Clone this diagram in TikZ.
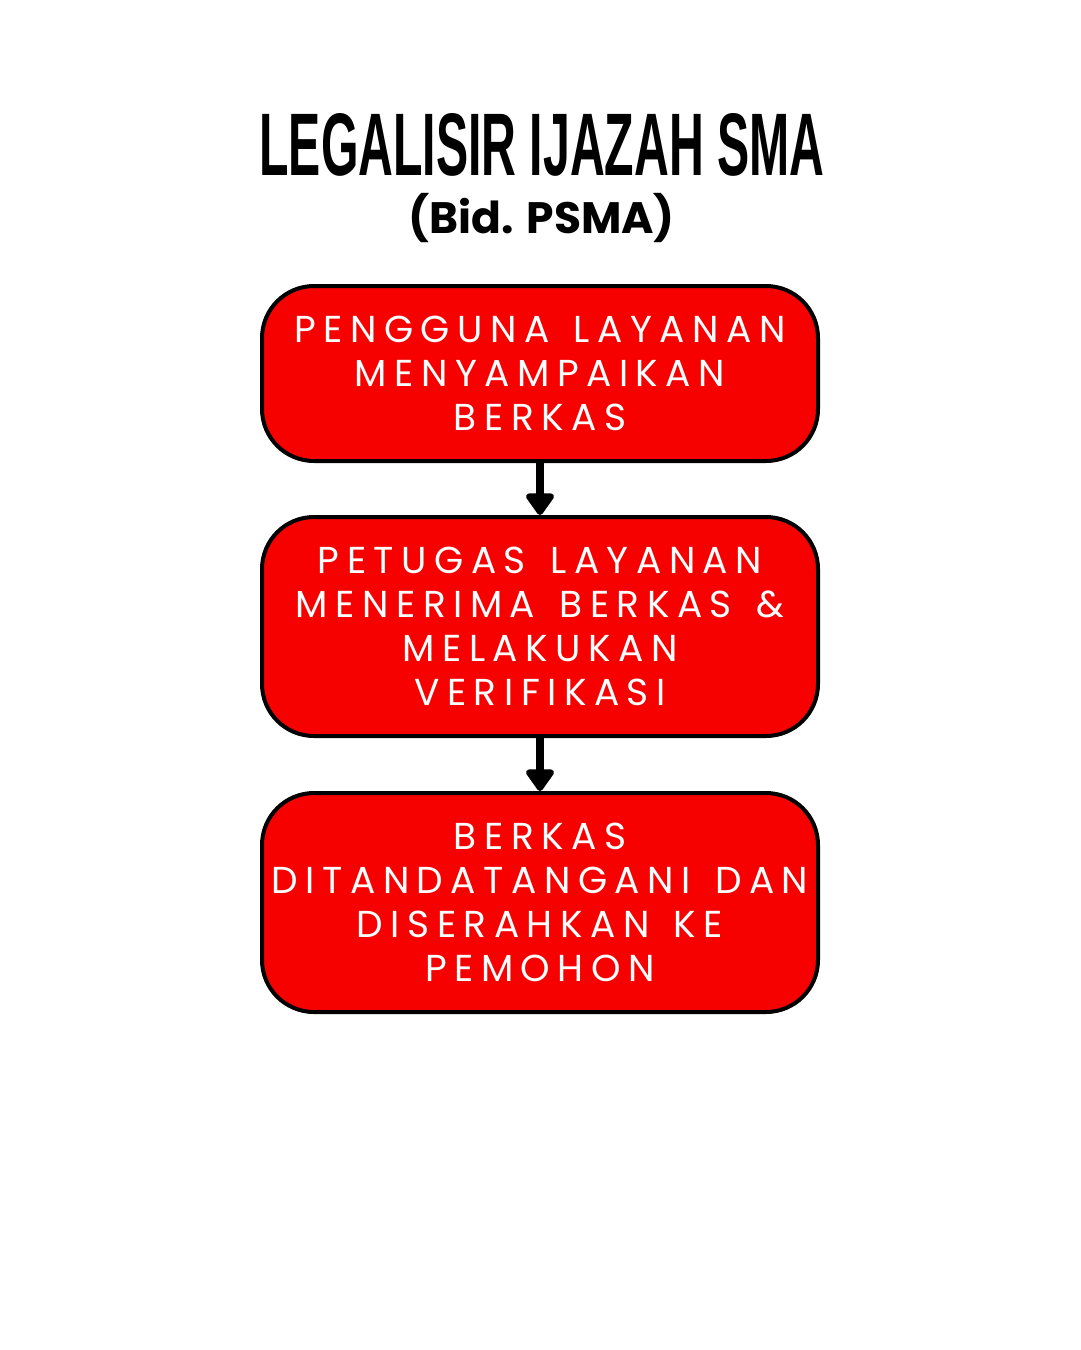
\documentclass[tikz,border=0pt]{standalone}
\usepackage{fontspec}
\usetikzlibrary{arrows.meta}
\newfontfamily\titlefont{Liberation Sans Bold}
\newfontfamily\popb{Poppins Bold}
\newfontfamily\popr[LetterSpace=20,WordSpace=1.4]{Poppins}
\definecolor{boxred}{RGB}{247,0,0}
\tikzset{
  x=1pt,y=-1pt,
  stepbox/.style={draw=black, line width=4pt, fill=boxred, rounded corners=52pt,
    minimum width=556pt, align=center, text=white, inner sep=0pt,
    font=\popr\fontsize{37.5}{44}\selectfont},
  flow/.style={line width=8pt, -{Triangle[width=32pt,length=24pt,round]}}
}
\begin{document}
\begin{tikzpicture}
\useasboundingbox (0,0) rectangle (1080,1350);
\fill[white] (0,0) rectangle (1080,1350);
\node[anchor=south, inner sep=0pt] (title) at (542,177)
  {\resizebox{565pt}{62pt}{\titlefont LEGALISIR IJAZAH SMA}};
\node[anchor=base, inner sep=0pt, font=\popb\fontsize{44}{50}\selectfont] (sub) at (542,233) {(Bid. PSMA)};
\node[stepbox, minimum height=175pt] (b1) at (540,373.5)
  {PENGGUNA LAYANAN\\MENYAMPAIKAN\\BERKAS};
\node[stepbox, minimum height=219pt] (b2) at (540,626.5)
  {PETUGAS LAYANAN\\MENERIMA BERKAS \&\\MELAKUKAN\\VERIFIKASI};
\node[stepbox, minimum height=219pt] (b3) at (540,902.5)
  {BERKAS\\DITANDATANGANI DAN\\DISERAHKAN KE\\PEMOHON};
\draw[flow] (b1.south) -- (b2.north);
\draw[flow] (b2.south) -- (b3.north);
\end{tikzpicture}
\end{document}
